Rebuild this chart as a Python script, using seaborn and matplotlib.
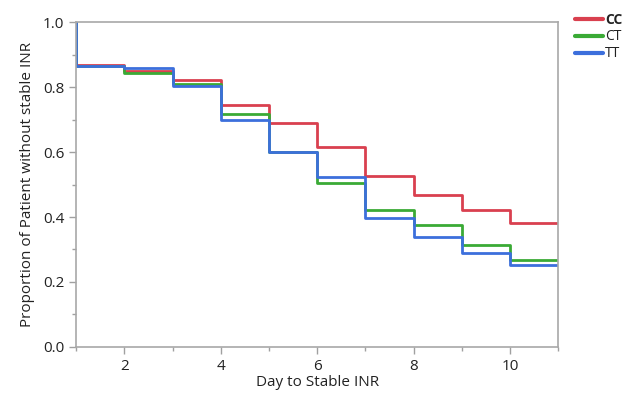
import matplotlib
matplotlib.use("Agg")
import matplotlib.pyplot as plt
import seaborn as sns
import pandas as pd
from matplotlib.ticker import MultipleLocator

# Dados das curvas (proporção sem INR estável por dia)
dias = [1, 1, 2, 3, 4, 5, 6, 7, 8, 9, 10, 11]
cc = [1.0, 0.868, 0.850, 0.823, 0.744, 0.688, 0.616, 0.526, 0.468, 0.421, 0.383, 0.383]
ct = [1.0, 0.865, 0.845, 0.809, 0.717, 0.601, 0.506, 0.421, 0.375, 0.314, 0.268, 0.268]
tt = [1.0, 0.865, 0.858, 0.803, 0.698, 0.601, 0.524, 0.396, 0.337, 0.290, 0.252, 0.252]
grupos = ["CC", "CT", "TT"]
cores = ["#d9404f", "#3aaa35", "#3c6fdc"]

df = pd.DataFrame({
    "Dia": dias * 3,
    "Proporcao": cc + ct + tt,
    "Grupo": ["CC"] * len(dias) + ["CT"] * len(dias) + ["TT"] * len(dias),
})

sns.set_style("white")
plt.rcParams['font.family'] = ['Open Sans', 'DejaVu Sans']

fig = plt.figure(figsize=(6.3, 3.96), dpi=100)
ax = fig.add_axes([0.121, 0.124, 0.765, 0.820])

for g, c in zip(grupos, cores):
    sub = df[df["Grupo"] == g]
    ax.plot(sub["Dia"], sub["Proporcao"], drawstyle="steps-post", color=c, lw=2, label=g)

ax.set_xlim(1, 11)
ax.set_ylim(0, 1.0)
ax.xaxis.set_major_locator(MultipleLocator(2))
ax.xaxis.set_minor_locator(MultipleLocator(1))
ax.yaxis.set_major_locator(MultipleLocator(0.2))
ax.yaxis.set_minor_locator(MultipleLocator(0.1))
ax.yaxis.set_major_formatter(matplotlib.ticker.FormatStrFormatter("%.1f"))
ax.tick_params(which="both", direction="out", color="#a0a0a0", labelsize=11, labelcolor="#222222")
ax.tick_params(which="major", length=5, width=1)
ax.tick_params(which="minor", length=3, width=1)
ax.tick_params(axis="x", which="both", bottom=True)
ax.tick_params(axis="y", which="both", left=True)
for s in ax.spines.values():
    s.set_color("#a8a8a8")
    s.set_linewidth(1.2)

ax.set_xlabel("Day to Stable INR", fontsize=11, color="#222222", labelpad=1)
ax.set_ylabel("Proportion of Patient without stable INR", fontsize=11, color="#222222", labelpad=6)

leg = ax.legend(loc="upper left", bbox_to_anchor=(0.893, 0.998), bbox_transform=fig.transFigure,
                frameon=False, fontsize=10, handlelength=2.0, handletextpad=0.15, labelspacing=0.15)
leg.get_texts()[0].set_fontweight("bold")
for t in leg.get_texts():
    t.set_color("#222222")
for h in leg.get_lines():
    h.set_linewidth(3)

fig.savefig("out.png", dpi=100)
